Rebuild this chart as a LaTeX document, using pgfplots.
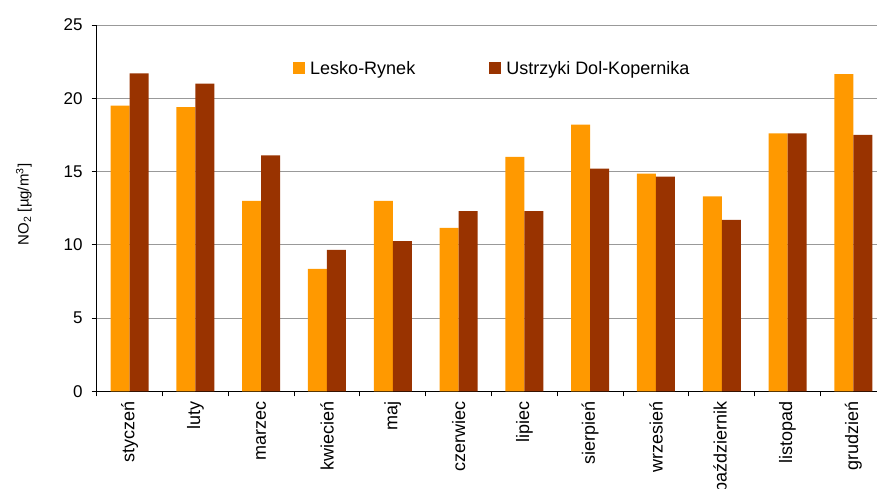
\documentclass[border=0pt]{standalone}
\usepackage{pgfplots}
\pgfplotsset{compat=1.18}
\usepackage{fontspec}
\setmainfont{Liberation Sans}

\definecolor{lesko}{HTML}{FF9900}
\definecolor{ustrzyki}{HTML}{993300}
\definecolor{gridgray}{HTML}{999999}

% monthly mean NO2 concentrations
\pgfplotstableread{
idx lesko ustrzyki
0  19.5  21.7
1  19.4  21.0
2  13.0  16.1
3  8.35  9.65
4  13.0  10.25
5  11.15 12.3
6  16.0  12.3
7  18.2  15.2
8  14.85 14.65
9  13.3  11.7
10 17.6  17.6
11 21.65 17.5
}\nodata

\begin{document}
\begin{tikzpicture}
\begin{axis}[
  at={(0pt,0pt)}, anchor=south west,
  scale only axis, width=780.3pt, height=366.3pt,
  xmin=-0.5, xmax=11.359, ymin=0, ymax=25,
  axis x line*=bottom, axis y line*=left,
  axis line style={-, black, line width=0.9pt},
  ytick={0,5,...,25},
  xtick={0,...,11},
  xticklabels={styczeń,luty,marzec,kwiecień,maj,czerwiec,lipiec,sierpień,wrzesień,październik,listopad,grudzień},
  minor xtick={-0.5,0.5,...,11.5},
  major x tick style={draw=none},
  minor x tick style={black, line width=0.9pt},
  every tick/.style={black, line width=0.9pt},
  tick align=outside,
  major tick length=5pt, minor tick length=5pt,
  ymajorgrids, grid style={gridgray, line width=0.9pt},
  /pgf/number format/assume math mode=true,
  yticklabel style={inner sep=0pt, xshift=-9pt, font=\fontsize{17}{20}\selectfont},
  xticklabel style={yshift=-5pt, rotate=90, anchor=east, inner sep=0pt, font=\fontsize{18}{21}\selectfont},
  every axis y label/.style={at={(axis description cs:-0.0932,0.51)}, rotate=90, anchor=center, font=\fontsize{15}{18}\selectfont},
  ylabel={NO\textsubscript{2} [µg/m\textsuperscript{3}]},
  ybar=0pt, bar width=19pt,
  legend columns=2,
  legend cell align=left,
  legend image code/.code={\fill[#1] (0pt,0pt) rectangle (12pt,12pt);},
  legend style={at={(axis description cs:0.2516,0.8807)}, anchor=west,
    draw=none, fill=none, inner sep=0pt,
    nodes={inner sep=0pt, anchor=base},
    font=\fontsize{18}{21}\selectfont,
    /tikz/every odd column/.append style={column sep=5pt},
    /tikz/every even column/.append style={column sep=74pt}},
]
\addplot[fill=lesko, draw=none] table[x=idx, y=lesko] {\nodata};
\addplot[fill=ustrzyki, draw=none] table[x=idx, y=ustrzyki] {\nodata};
\legend{Lesko-Rynek, Ustrzyki Dol-Kopernika}
\end{axis}
\pgfresetboundingbox
\path[use as bounding box] (-96.7pt,-96.7pt) rectangle (780.3pt,391.3pt);
\end{tikzpicture}
\end{document}
